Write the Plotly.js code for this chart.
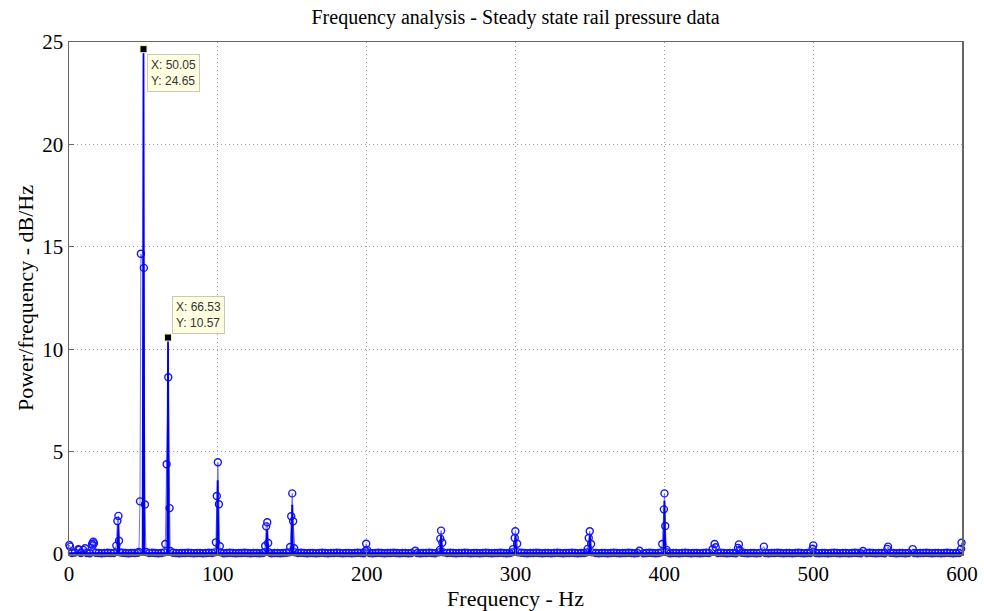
<!DOCTYPE html>
<html>
<head>
<meta charset="utf-8">
<script src="https://cdn.plot.ly/plotly-3.0.1.min.js"></script>
<style>
  html, body { margin: 0; padding: 0; background: #ffffff; }
  #chart { width: 984px; height: 611px; }
</style>
</head>
<body>
<div id="chart"></div>
<script>
// Spectral estimate of steady-state rail pressure (Hz vs dB/Hz)

// Spectrum floor, one value per 2 Hz bin from 0 to 600 Hz
const binWidth = 2;
const floorPsd = [
  0.06, 0.05, 0.07, 0.06, 0.05, 0.06, 0.05, 0.04, 0.05, 0.06,
  0.05, 0.04, 0.05, 0.06, 0.05, 0.05, 0.04, 0.05, 0.06, 0.05,
  0.04, 0.05, 0.05, 0.06, 0.05, 0.04, 0.05, 0.05, 0.06, 0.05,
  0.04, 0.05, 0.05, 0.04, 0.05, 0.06, 0.05, 0.04, 0.05, 0.05,
  0.06, 0.05, 0.04, 0.05, 0.05, 0.04, 0.05, 0.06, 0.05, 0.04,
  0.05, 0.05, 0.04, 0.05, 0.06, 0.05, 0.04, 0.05, 0.05, 0.06,
  0.05, 0.04, 0.05, 0.05, 0.04, 0.05, 0.06, 0.05, 0.04, 0.05,
  0.05, 0.04, 0.05, 0.06, 0.05, 0.04, 0.05, 0.05, 0.06, 0.05,
  0.04, 0.05, 0.05, 0.04, 0.05, 0.06, 0.05, 0.04, 0.05, 0.05,
  0.06, 0.05, 0.04, 0.05, 0.05, 0.04, 0.05, 0.06, 0.05, 0.04,
  0.05, 0.05, 0.04, 0.05, 0.06, 0.05, 0.04, 0.05, 0.05, 0.06,
  0.05, 0.04, 0.05, 0.05, 0.04, 0.05, 0.06, 0.05, 0.04, 0.05,
  0.05, 0.06, 0.05, 0.04, 0.05, 0.05, 0.04, 0.05, 0.06, 0.05,
  0.04, 0.05, 0.05, 0.06, 0.05, 0.04, 0.05, 0.05, 0.04, 0.05,
  0.06, 0.05, 0.04, 0.05, 0.05, 0.06, 0.05, 0.04, 0.05, 0.05,
  0.04, 0.05, 0.06, 0.05, 0.04, 0.05, 0.05, 0.06, 0.05, 0.04,
  0.05, 0.05, 0.04, 0.05, 0.06, 0.05, 0.04, 0.05, 0.05, 0.06,
  0.05, 0.04, 0.05, 0.05, 0.04, 0.05, 0.06, 0.05, 0.04, 0.05,
  0.05, 0.04, 0.05, 0.06, 0.05, 0.04, 0.05, 0.05, 0.06, 0.05,
  0.04, 0.05, 0.05, 0.04, 0.05, 0.06, 0.05, 0.04, 0.05, 0.05,
  0.06, 0.05, 0.04, 0.05, 0.05, 0.04, 0.05, 0.06, 0.05, 0.04,
  0.05, 0.05, 0.04, 0.05, 0.06, 0.05, 0.04, 0.05, 0.05, 0.06,
  0.05, 0.04, 0.05, 0.05, 0.04, 0.05, 0.06, 0.05, 0.04, 0.05,
  0.05, 0.04, 0.05, 0.06, 0.05, 0.04, 0.05, 0.05, 0.06, 0.05,
  0.04, 0.05, 0.05, 0.04, 0.05, 0.06, 0.05, 0.04, 0.05, 0.05,
  0.06, 0.05, 0.04, 0.05, 0.05, 0.04, 0.05, 0.06, 0.05, 0.04,
  0.05, 0.05, 0.04, 0.05, 0.06, 0.05, 0.04, 0.05, 0.05, 0.06,
  0.05, 0.04, 0.05, 0.05, 0.04, 0.05, 0.06, 0.05, 0.04, 0.05,
  0.05, 0.04, 0.05, 0.06, 0.05, 0.04, 0.05, 0.05, 0.06, 0.05,
  0.04, 0.05, 0.05, 0.04, 0.05, 0.06, 0.05, 0.04, 0.05, 0.05,
  0.05
];

// Finely resolved samples around the harmonics (Hz)
const clusterFreq = [
  0.2, 0.7, 6.3, 6.9, 9.6, 10.8, 15.5, 15.9, 16.3, 16.8,
  31.8, 32.5, 33.2, 33.6, 34.2,
  47.0, 47.7, 48.3, 50.3, 51.0, 51.7,
  64.0, 64.7, 65.6, 66.7, 67.6, 68.0,
  98.0, 98.7, 99.3, 100.0, 100.7, 101.3, 101.9,
  131.2, 131.8, 132.5, 133.2, 133.8, 134.4,
  148.0, 148.6, 149.3, 150.0, 150.6, 151.3, 151.9,
  199.2, 199.7, 200.3,
  232.7,
  248.6, 249.2, 249.5, 250.0, 250.8, 251.4,
  297.8, 298.4, 299.5, 299.9, 301.1, 301.7,
  347.9, 348.5, 349.2, 349.9, 350.8, 351.4,
  383.3,
  398.0, 398.6, 399.7, 400.1, 400.6, 401.5, 402.1,
  432.4, 433.8, 434.5,
  449.5, 450.1, 450.6,
  466.9,
  499.6, 500.1,
  533.5,
  549.8, 550.3,
  566.9,
  599.4, 599.7
];
const clusterPsd = [
  0.44, 0.36, 0.23, 0.20, 0.20, 0.28, 0.49, 0.42, 0.60, 0.52,
  0.41, 1.61, 1.86, 0.65, 0.08,
  0.10, 2.57, 14.66, 13.97, 2.42, 0.10,
  0.08, 0.49, 4.38, 8.63, 2.24, 0.15,
  0.08, 0.57, 2.83, 4.48, 2.43, 0.38, 0.08,
  0.08, 0.39, 1.35, 1.55, 0.54, 0.08,
  0.08, 0.34, 1.84, 2.96, 1.60, 0.28, 0.08,
  0.15, 0.50, 0.20,
  0.16,
  0.08, 0.20, 0.75, 1.14, 0.55, 0.08,
  0.08, 0.24, 0.78, 1.11, 0.50, 0.08,
  0.08, 0.25, 0.78, 1.11, 0.49, 0.08,
  0.16,
  0.08, 0.49, 2.18, 2.96, 1.37, 0.20, 0.08,
  0.23, 0.49, 0.33,
  0.30, 0.47, 0.20,
  0.36,
  0.26, 0.42,
  0.15,
  0.25, 0.36,
  0.24,
  0.25, 0.55
];

// High-resolution estimate (solid line)
const lineFreq = [
  0, 32.6, 33.1, 33.6, 49.5, 50.05, 50.6, 66.0, 66.53, 67.1,
  99.4, 99.9, 100.4, 132.6, 133.1, 133.6, 149.5, 150.0, 150.5,
  249.5, 250.0, 250.5, 299.5, 300.0, 300.5, 349.5, 350.0, 350.5,
  399.6, 400.1, 400.6, 600
];
const linePsd = [
  0.04, 0.04, 1.45, 0.04, 0.04, 24.65, 0.04, 0.04, 10.57, 0.04,
  0.04, 3.60, 0.04, 0.04, 1.20, 0.04, 0.04, 2.40, 0.04,
  0.04, 0.90, 0.04, 0.04, 0.90, 0.04, 0.04, 0.90, 0.04,
  0.04, 2.60, 0.04, 0.04
];

// Data cursors
const tipFreq = [50.05, 66.53];
const tipPsd = [24.65, 10.57];

// Axis ticks
const xTicks = [0, 100, 200, 300, 400, 500, 600];
const yTicks = [0, 5, 10, 15, 20, 25];

// Merge the floor bins with the resolved samples, skipping bins that fall inside a cluster
const merged = [];
floorPsd.forEach((v, i) => {
  const f = i * binWidth;
  const covered = clusterFreq.some(c => Math.abs(c - f) < 0.9);
  if (!covered) merged.push([f, v]);
});
clusterFreq.forEach((f, i) => merged.push([f, clusterPsd[i]]));
merged.sort((a, b) => a[0] - b[0]);
const markFreq = merged.map(p => p[0]);
const markPsd = merged.map(p => p[1]);

const traces = [
  {
    x: markFreq, y: markPsd,
    type: 'scatter', mode: 'lines+markers',
    line: { color: '#7070ff', width: 1 },
    marker: { symbol: 'circle-open', size: 7, color: '#1414ff', line: { width: 1.4, color: '#1414ff' } },
    cliponaxis: false,
    hoverinfo: 'skip'
  },
  {
    x: lineFreq, y: linePsd,
    type: 'scatter', mode: 'lines',
    line: { color: '#0000f0', width: 1.8 },
    cliponaxis: false,
    hoverinfo: 'skip'
  },
  {
    x: tipFreq, y: tipPsd,
    type: 'scatter', mode: 'markers',
    marker: { symbol: 'square', size: 7, color: '#000000', line: { width: 1, color: '#f5f0b0' } },
    cliponaxis: false,
    hoverinfo: 'skip'
  }
];

const tipFont = { family: 'Liberation Sans, Arial, sans-serif', size: 12, color: '#333333' };
const annotations = tipFreq.map((f, i) => ({
  x: f, y: tipPsd[i], xref: 'x', yref: 'y',
  text: 'X: ' + f.toFixed(2) + '<br>Y: ' + tipPsd[i].toFixed(2),
  showarrow: false,
  align: 'left',
  xanchor: 'left',
  yanchor: i === 0 ? 'top' : 'bottom',
  xshift: 4,
  yshift: i === 0 ? -5 : 4,
  bgcolor: '#ffffe1',
  bordercolor: '#c8c8b4',
  borderwidth: 1,
  borderpad: 3,
  font: tipFont
}));

const serif = 'Liberation Serif, Times New Roman, serif';
const axisCommon = {
  showline: true, mirror: true, linecolor: '#666666', linewidth: 1.5,
  ticks: 'inside', ticklen: 5, tickcolor: '#666666',
  showgrid: true, gridcolor: '#a0a0a0', griddash: '1px,3px', gridwidth: 1,
  zeroline: false,
  tickfont: { family: serif, size: 21, color: '#000000' }
};

const layout = {
  width: 984, height: 611,
  margin: { l: 69, r: 22, t: 42, b: 57 },
  paper_bgcolor: '#ffffff', plot_bgcolor: '#ffffff',
  showlegend: false,
  title: {
    text: 'Frequency analysis - Steady state rail pressure data',
    font: { family: serif, size: 20, color: '#000000' },
    x: 0.524, xanchor: 'center', y: 0.972, yanchor: 'middle'
  },
  xaxis: Object.assign({}, axisCommon, {
    range: [0, 600], tickvals: xTicks, ticktext: xTicks.map(String),
    title: { text: 'Frequency - Hz', font: { family: serif, size: 22, color: '#000000' }, standoff: 1 }
  }),
  yaxis: Object.assign({}, axisCommon, {
    range: [0, 25], tickvals: yTicks, ticktext: yTicks.map(String),
    title: { text: 'Power/frequency - dB/Hz', font: { family: serif, size: 22, color: '#000000' }, standoff: 2 }
  }),
  annotations: annotations
};

Plotly.newPlot('chart', traces, layout, { staticPlot: true, displayModeBar: false });
</script>
</body>
</html>
